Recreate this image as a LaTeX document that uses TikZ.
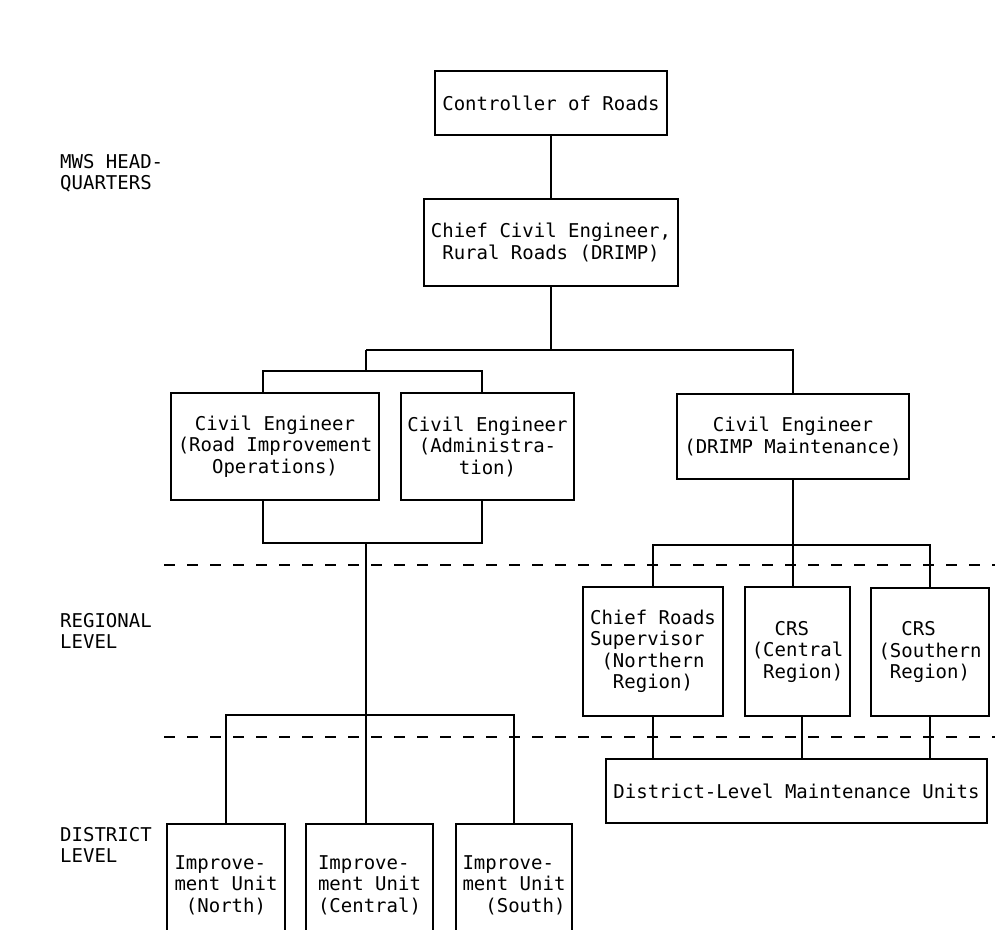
\documentclass[tikz,border=0pt]{standalone}
\usepackage{fontspec}
\setmainfont{DejaVu Sans Mono}
\begin{document}
\begin{tikzpicture}[x=1pt, y=-1pt,
  every node/.style={font=\fontsize{19}{21.5}\selectfont, inner sep=0pt},
  unitbox/.style={draw, line width=1.7pt, align=center},
  leftbox/.style={draw, line width=1.7pt, align=left},
  openbox/.style={draw, line width=1.7pt, minimum height=160pt, anchor=north},
  levellabel/.style={anchor=west, align=left},
  link/.style={line width=1.7pt},
  levelline/.style={line width=1.6pt, dash pattern=on 11pt off 12pt}]

\useasboundingbox (0,0) rectangle (995,929);
\clip (0,0) rectangle (995,929);

% ---- level labels ----
\node[levellabel] (lhq)  at (60,173) {MWS HEAD-\\QUARTERS};
\node[levellabel] (lreg) at (60,631) {REGIONAL\\LEVEL};
\node[levellabel] (ldis) at (60,845) {DISTRICT\\LEVEL};

% ---- level separators ----
\coordinate (sepA) at (164,565);
\coordinate (sepB) at (164,737);
\draw[levelline] (sepA) -- (995,565);
\draw[levelline] (sepB) -- (995,737);

% ---- headquarters ----
\node[unitbox, minimum width=232pt, minimum height=64pt] (ctrl) at (551,103)
  {Controller of Roads};
\node[unitbox, minimum width=254pt, minimum height=87pt] (chief) at (551,242.5)
  {Chief Civil Engineer,\\Rural Roads (DRIMP)};
\node[unitbox, minimum width=208pt, minimum height=107pt] (ceri) at (275,446.5)
  {Civil Engineer\\(Road Improvement\\Operations)};
\node[unitbox, minimum width=173pt, minimum height=107pt] (cead) at (487.5,446.5)
  {Civil Engineer\\(Administra-\\tion)};
\node[unitbox, minimum width=232pt, minimum height=85pt] (cedm) at (793,436.5)
  {Civil Engineer\\(DRIMP Maintenance)};

% ---- regional level ----
\node[leftbox, minimum width=140pt, minimum height=129pt] (crsn) at (653,651.5)
  {Chief Roads\\Supervisor\\\phantom{x}(Northern\\\phantom{xx}Region)};
\node[leftbox, minimum width=105pt, minimum height=129pt] (crsc) at (797.5,651.5)
  {\phantom{xx}CRS\\(Central\\\phantom{x}Region)};
\node[leftbox, minimum width=118pt, minimum height=128pt] (crss) at (930,652)
  {\phantom{xx}CRS\\(Southern\\\phantom{x}Region)};

% ---- district level ----
\node[unitbox, minimum width=381pt, minimum height=64pt] (dlmu) at (796.5,791)
  {District-Level Maintenance Units};

\node[openbox, minimum width=118pt] (iun) at (226,823) {};
\node[openbox, minimum width=127pt] (iuc) at (369.5,823) {};
\node[openbox, minimum width=116pt] (ius) at (514,823) {};
\node[align=left] (tun) at (226,885) {Improve-\\ment Unit\\\phantom{x}(North)};
\node[align=left] (tuc) at (369.5,885) {Improve-\\ment Unit\\(Central)};
\node[align=left] (tus) at (514,885) {Improve-\\ment Unit\\\phantom{xx}(South)};

% ---- junction points ----
\coordinate (hq)   at (366,350);
\coordinate (topL) at (263,371);
\coordinate (topR) at (482,371);
\coordinate (botL) at (263,543);
\coordinate (botR) at (482,543);
\coordinate (ibus) at (366,715);
\coordinate (rbus) at (793,545);
\coordinate (cdrop) at ([xshift=4.5pt]crsc.south);

% ---- connectors ----
\draw[link] (ctrl.south) -- (chief.north);
\draw[link] (chief.south) -- (chief.south |- hq);
\draw[link] (hq) -- (cedm.north |- hq) -- (cedm.north);
\draw[link] (hq) -- (hq |- topL);
\draw[link] (topL |- ceri.north) -- (topL) -- (topR) -- (topR |- cead.north);
\draw[link] (botL |- ceri.south) -- (botL) -- (botR) -- (botR |- cead.south);
\draw[link] (hq |- botL) -- (hq |- iuc.north);
\draw[link] (iun.north) -- (iun.north |- ibus) -- (ius.north |- ibus) -- (ius.north);

\draw[link] (cedm.south) -- (cedm.south |- crsc.north);
\draw[link] (crsn.north) -- (crsn.north |- rbus) -- (crss.north |- rbus) -- (crss.north);
\draw[link] (crsn.south) -- (crsn.south |- dlmu.north);
\draw[link] (cdrop) -- (cdrop |- dlmu.north);
\draw[link] (crss.south) -- (crss.south |- dlmu.north);
\end{tikzpicture}
\end{document}
